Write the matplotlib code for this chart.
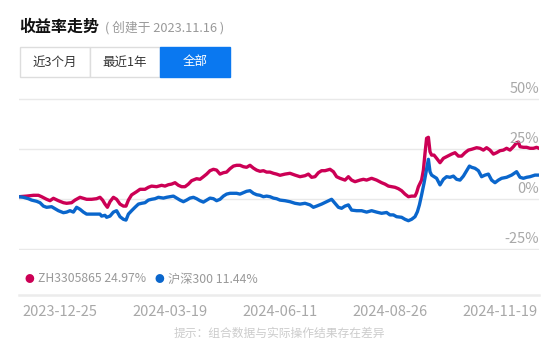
import matplotlib
matplotlib.use("Agg")
import matplotlib.pyplot as plt
from matplotlib.patches import Rectangle

plt.rcParams['font.family'] = ['Noto Sans CJK SC', 'DejaVu Sans']

# trading-day index -> cumulative return (%)
red_days = [0, 3.8, 7.2, 9.7, 11.3, 13.8, 15.5, 17.2, 19.7, 22.2, 23.8, 26.3, 28, 30.5, 32.2, 33.8,
            36.3, 38.8, 40.5, 41.8, 43, 44.2, 45.5, 47.2, 48.8, 50.5, 52.2, 53.5, 54.7, 56.3, 58.8,
            60.5, 63, 64.7, 66.3, 68.8, 71.3, 73, 74.7, 76.3, 78, 79.7, 81.3, 83, 84.7, 86.3, 88.8,
            90.5, 92.2, 93.8, 95.5, 97.2, 98.8, 100.5, 102.2, 103.8, 105.5, 107.2, 108.8, 110.5,
            112.2, 113.8, 115.5, 117.2, 118.8, 120.5, 122.2, 123.8, 125.5, 127.2, 128.8, 130.5,
            133, 135.5, 138, 140.5, 143, 144.7, 146.3, 148, 149.7, 151.3, 153, 155.5, 157.2, 158.8,
            160.5, 163, 164.7, 166.3, 168, 170.5, 172.2, 173.8, 176.3, 178.8, 181.3, 183, 184.7,
            186.3, 188, 189.7, 191.3, 193, 194.7, 196.3, 198, 198.8, 199.7, 201.3, 202.2, 203,
            203.8, 204.7, 205.5, 206.3, 207.5, 208.8, 210.5, 212.2, 213.8, 216.3, 218, 219.7,
            221.3, 223, 224.7, 226.3, 228.8, 230.5, 232.2, 233.8, 235.5, 237.2, 238.8, 240.5,
            242.2, 243.8, 245.5, 247.2, 248.8, 249.7, 250.5, 252.2, 253.8, 255.5, 257.2, 258.8, 260]
red_vals = [1.3, 1.6, 2.0, 2.0, 1.3, 0.0, -0.7, 0.5, -0.7, -1.7, -2.0, -1.7, -0.4, 1.0, 0.5, 0.0,
            0.0, 0.3, 1.0, -0.4, -2.4, -4.0, -1.2, 1.0, 0.0, -2.4, -3.4, -3.4, -0.4, 2.2, 3.8,
            5.0, 5.0, 6.0, 6.6, 6.3, 7.0, 6.6, 7.3, 7.6, 8.3, 7.0, 6.3, 6.3, 7.6, 9.3, 10.3,
            10.0, 11.3, 12.6, 14.3, 15.0, 14.6, 12.6, 13.3, 13.6, 15.3, 16.6, 17.0, 17.0,
            16.3, 16.0, 17.0, 15.6, 14.6, 14.0, 14.3, 13.6, 13.6, 13.0, 12.6, 12.0,
            12.6, 13.0, 12.1, 11.3, 11.8, 12.6, 11.0, 11.3, 13.3, 14.3, 14.3, 15.0, 13.8, 11.3,
            10.5, 9.6, 11.3, 9.6, 8.8, 9.6, 10.0, 9.6, 10.5, 9.6, 8.3, 7.6, 6.6,
            6.3, 6.0, 5.3, 4.3, 2.6, 1.3, 1.6, 1.6, 3.3, 6.3, 9.6, 14.6, 23.0,
            30.5, 31.0, 23.8, 22.1, 22.1, 20.5, 18.3, 20.5, 21.3, 22.6, 23.3, 21.6,
            21.6, 23.3, 24.6, 25.0, 25.8, 25.5, 24.6, 25.8, 24.6, 22.6, 23.3, 24.3,
            24.6, 25.5, 24.6, 26.3, 28.3, 28.6, 26.3, 26.0, 26.0, 25.5, 25.5, 26.0, 25.5]

blue_days = [0, 2.2, 4.7, 6.3, 8.8, 10.5, 12.2, 13.8, 16.3, 18, 19.7, 22.2, 23.8, 25.5, 27.2, 28.8,
             30.5, 32.2, 33.8, 36.3, 38.8, 40.5, 41.3, 43, 43.8, 45.5, 47.2, 48.8, 50.5, 52.2,
             53.5, 54.7, 56.3, 58, 59.7, 61.3, 63, 64.7, 66.3, 68, 69.7, 72.2, 73.8, 75.5, 77.2,
             78.8, 80.5, 82.2, 83.8, 85.5, 87.2, 88.8, 90.5, 92.2, 93.8, 95.5, 97.2, 98.8, 100.5,
             102.2, 103.8, 105.5, 107.2, 108.8, 110.5, 112.2, 113.8, 115.5, 117.2, 118.8, 120.5,
             122.2, 123.8, 125.5, 127.2, 128.8, 130.5, 133, 135.5, 138, 140.5, 143, 145.5, 147.2,
             148.8, 151.3, 153.8, 156.3, 158, 159.7, 161.3, 163, 164.7, 166.3, 168.8, 171.3,
             173.8, 176.3, 178.8, 181.3, 183.8, 185.5, 187.2, 188.8, 191.3, 193, 194.7, 196.3,
             198, 199.2, 200.2, 201.3, 202.5, 203.8, 204.7, 205.5, 206.3, 207.5, 208.8, 210.5,
             212.2, 213.8, 215.5, 217.2, 218.8, 220.5, 222.2, 223.8, 225.2, 226.3, 228, 229.7,
             231.3, 233, 234.7, 236.3, 238, 239.7, 241.3, 243.8, 246.3, 248.8, 250.5, 252.2,
             253.8, 255.5, 258, 260]
blue_vals = [1.3, 1.0, 0.3, -0.4, -1.0, -1.7, -3.4, -4.0, -3.7, -4.7, -5.7, -6.7, -6.4, -5.7, -6.4, -4.0,
             -5.0, -6.4, -7.4, -7.4, -7.4, -7.4, -8.4, -8.0, -9.0, -8.4, -6.4, -5.7, -8.7, -10.0,
             -10.4, -7.4, -5.7, -4.0, -2.4, -2.0, -1.7, -0.4, 0.0, 0.3, 1.0, 0.6, 1.0, 1.3, 1.6,
             0.6, -0.4, -1.2, -0.4, 0.6, 1.0, 0.3, -0.7, -1.4, -0.4, 0.6, 0.3, -0.7, 0.0,
             1.6, 2.6, 3.0, 3.0, 3.0, 2.6, 3.3, 4.0, 4.3, 3.0, 2.3, 2.0,
             1.3, 1.6, 1.3, 0.6, 0.3, -0.4, -0.7, -1.2, -2.0, -2.4, -2.0, -2.8, -4.0,
             -3.4, -2.4, -1.2, 0.0, -2.0, -4.0, -4.5, -3.4, -2.8, -5.4, -5.7, -5.7,
             -6.4, -5.7, -6.4, -7.0, -6.6, -7.8, -7.8, -8.7, -9.0, -10.0, -10.7, -10.0,
             -8.7, -6.2, -2.8, 2.2, 8.0, 15.0, 20.0, 13.8, 12.1, 11.3, 10.5, 7.2,
             10.0, 11.3, 11.0, 11.6, 10.0, 9.6, 11.6, 14.3, 16.6, 16.0, 15.5, 14.3,
             11.3, 12.1, 12.6, 9.6, 8.3, 9.6, 10.5, 11.0, 12.1, 13.8, 11.0, 10.5,
             11.0, 11.3, 12.1, 12.1]

yticks = [50, 25, 0, -25]
date_labels = ['2023-12-25', '2024-03-19', '2024-06-11', '2024-08-26', '2024-11-19']
buttons = ['近3个月', '最近1年', '全部']
legend_items = [('ZH3305865 24.97%', '#cc0055'), ('沪深300 11.44%', '#0a66cc')]

W, H = 560, 351
fig = plt.figure(figsize=(W / 100, H / 100), dpi=100)
fig.patch.set_facecolor('white')

# chart area: x 19..539 px, y 50% at 99.3 px, 2 px per percent
ax = fig.add_axes([19 / W, (H - 250.3) / H, 520 / W, 152 / H])
ax.set_xlim(0, 260)
ax.set_ylim(-25.5, 50.5)
ax.axis('off')
for v in yticks:
    ax.axhline(v, color='#e9e9e9', lw=1, zorder=1)
    ax.text(260, v + 5, f'{v}%', ha='right', va='center', fontsize=10.5, color='#a8a8a8', zorder=5)
ax.plot(red_days, red_vals, color='#cc0055', lw=2.4, solid_joinstyle='round', zorder=3)
ax.plot(blue_days, blue_vals, color='#0a66cc', lw=2.4, solid_joinstyle='round', zorder=3)

# header
fig.text(19 / W, 1 - 27 / H, '收益率走势', fontsize=11.5, fontweight='bold', color='#111111', va='center')
fig.text(105 / W, 1 - 28 / H, '( 创建于 2023.11.16 )', fontsize=9.2, color='#999999', va='center')

bx = [20, 90, 160, 230]
for i, lab in enumerate(buttons):
    x0, x1 = bx[i], bx[i + 1]
    active = i == 2
    fig.patches.append(Rectangle((x0 / W, 1 - 76.5 / H), (x1 - x0) / W, 29.5 / H,
                                 transform=fig.transFigure, facecolor='#0a78f0' if active else 'white',
                                 edgecolor='#0a78f0' if active else '#dddddd', lw=1))
    fig.text((x0 + x1) / 2 / W, 1 - 62 / H, lab, ha='center', va='center', fontsize=9,
             color='white' if active else '#333333')

# legend
lx = [29, 159]
for (txt, c), x in zip(legend_items, lx):
    fig.text(x / W, 1 - 279 / H, '●', ha='center', va='center', fontsize=7, color=c)
    fig.text((x + 9) / W, 1 - 279 / H, txt, ha='left', va='center', fontsize=8.8, color='#999999')

# separator and dates
fig.add_artist(plt.Line2D([19 / W, 539 / W], [1 - 295 / H, 1 - 295 / H], color='#ececec', lw=1.8))
centers = [60, 170, 280, 390, 500]
for c, lab in zip(centers, date_labels):
    fig.text(c / W, 1 - 312 / H, lab, ha='center', va='center', fontsize=10.5, color='#a8a8a8')

fig.text(279 / W, 1 - 333 / H, '提示：组合数据与实际操作结果存在差异', ha='center', va='center',
         fontsize=8.5, color='#cccccc')

fig.savefig('out.png', dpi=100)
